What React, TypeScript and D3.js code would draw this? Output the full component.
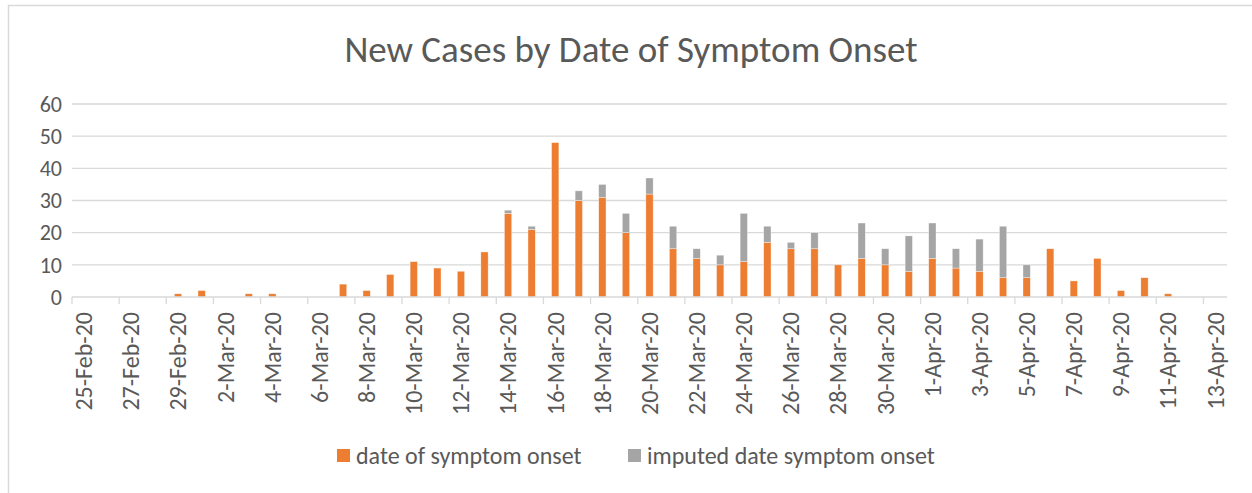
import React, { useEffect, useRef } from "react";
import * as d3 from "d3";

const dates = [
  "25-Feb-20", "26-Feb-20", "27-Feb-20", "28-Feb-20", "29-Feb-20",
  "1-Mar-20", "2-Mar-20", "3-Mar-20", "4-Mar-20", "5-Mar-20", "6-Mar-20", "7-Mar-20",
  "8-Mar-20", "9-Mar-20", "10-Mar-20", "11-Mar-20", "12-Mar-20", "13-Mar-20", "14-Mar-20",
  "15-Mar-20", "16-Mar-20", "17-Mar-20", "18-Mar-20", "19-Mar-20", "20-Mar-20", "21-Mar-20",
  "22-Mar-20", "23-Mar-20", "24-Mar-20", "25-Mar-20", "26-Mar-20", "27-Mar-20", "28-Mar-20",
  "29-Mar-20", "30-Mar-20", "31-Mar-20", "1-Apr-20", "2-Apr-20", "3-Apr-20", "4-Apr-20",
  "5-Apr-20", "6-Apr-20", "7-Apr-20", "8-Apr-20", "9-Apr-20", "10-Apr-20", "11-Apr-20",
  "12-Apr-20", "13-Apr-20",
];

const onset = [
  0, 0, 0, 0, 1,
  2, 0, 1, 1, 0, 0, 4,
  2, 7, 11, 9, 8, 14, 26,
  21, 48, 30, 31, 20, 32, 15,
  12, 10, 11, 17, 15, 15, 10,
  12, 10, 8, 12, 9, 8, 6,
  6, 15, 5, 12, 2, 6, 1,
  0, 0,
];

const imputed = [
  0, 0, 0, 0, 0,
  0, 0, 0, 0, 0, 0, 0,
  0, 0, 0, 0, 0, 0, 1,
  1, 0, 3, 4, 6, 5, 7,
  3, 3, 15, 5, 2, 5, 0,
  11, 5, 11, 11, 6, 10, 16,
  4, 0, 0, 0, 0, 0, 0,
  0, 0,
];

const yTicks = [0, 10, 20, 30, 40, 50, 60];
const seriesNames = ["date of symptom onset", "imputed date symptom onset"];
const colors = ["#ED7D31", "#A5A5A5"];

const W = 1252;
const H = 493;
const FONT = "Calibri, Carlito, Lato, sans-serif";
const TEXT = "#595959";

export default function App() {
  const ref = useRef<SVGSVGElement>(null);

  useEffect(() => {
    const svg = d3.select(ref.current);
    svg.selectAll("*").remove();

    const margin = { left: 72, right: 25, top: 104, bottom: 196 };
    const x = d3.scaleBand<string>().domain(dates).range([margin.left, W - margin.right]).paddingInner(0.69).paddingOuter(0.345);
    const y = d3.scaleLinear().domain([0, 60]).range([H - margin.bottom, margin.top]);
    const step = (W - margin.right - margin.left) / dates.length;

    // chart border
    svg.append("rect").attr("x", 8.5).attr("y", 5.5).attr("width", 1400).attr("height", 700)
      .attr("fill", "white").attr("stroke", "#D9D9D9").attr("stroke-width", 1.5);

    svg.append("text").attr("x", 631).attr("y", 62).attr("text-anchor", "middle")
      .attr("font-family", FONT).attr("font-size", 37).attr("fill", TEXT)
      .text("New Cases by Date of Symptom Onset");

    // gridlines + y labels
    const gy = svg.append("g");
    gy.selectAll("line").data(yTicks.slice(1)).enter().append("line")
      .attr("x1", margin.left).attr("x2", W - margin.right)
      .attr("y1", (d) => y(d)).attr("y2", (d) => y(d))
      .attr("stroke", "#D9D9D9").attr("stroke-width", 1.3);
    gy.selectAll("text").data(yTicks).enter().append("text")
      .attr("x", 62).attr("y", (d) => y(d)).attr("dy", "0.35em").attr("text-anchor", "end")
      .attr("font-family", FONT).attr("font-size", 22).attr("fill", TEXT)
      .text((d) => d);

    // stacked bars
    const stacked = d3.stack<number>().keys(["0", "1"])
      .value((i, k) => (k === "0" ? onset[i] : imputed[i]))(d3.range(dates.length));
    stacked.forEach((layer, li) => {
      svg.append("g").selectAll("rect")
        .data(layer.filter((d) => d[1] - d[0] > 0))
        .enter().append("rect")
        .attr("x", (d) => x(dates[d.data]) as number)
        .attr("y", (d) => y(d[1]))
        .attr("width", x.bandwidth())
        .attr("height", (d) => y(d[0]) - y(d[1]))
        .attr("fill", colors[li])
        .attr("stroke", "white").attr("stroke-opacity", 0.6).attr("stroke-width", 0.6);
    });

    // x axis line and tick marks (every 2 categories, at boundaries)
    const g0 = y(0);
    svg.append("line").attr("x1", margin.left).attr("x2", W - margin.right).attr("y1", g0).attr("y2", g0)
      .attr("stroke", "#D9D9D9").attr("stroke-width", 1.5);
    const tickIdx = d3.range(0, dates.length, 2);
    svg.append("g").selectAll("line").data(tickIdx).enter().append("line")
      .attr("x1", (i) => margin.left + i * step).attr("x2", (i) => margin.left + i * step)
      .attr("y1", g0).attr("y2", g0 + 7).attr("stroke", "#D9D9D9").attr("stroke-width", 1.3);

    svg.append("g").selectAll("text").data(tickIdx).enter().append("text")
      .attr("transform", (i) => `translate(${(x(dates[i]) as number) + x.bandwidth() / 2},${g0 + 15}) rotate(-90)`)
      .attr("dy", "0.35em").attr("text-anchor", "end")
      .attr("font-family", FONT).attr("font-size", 24).attr("fill", TEXT)
      .text((i) => dates[i]);

    // legend
    const leg = svg.append("g");
    const legX = [337, 628];
    seriesNames.forEach((name, i) => {
      leg.append("rect").attr("x", legX[i]).attr("y", 449).attr("width", 13).attr("height", 13).attr("fill", colors[i]);
      leg.append("text").attr("x", legX[i] + 19).attr("y", 456).attr("dy", "0.35em")
        .attr("font-family", FONT).attr("font-size", 24).attr("fill", TEXT).text(name);
    });
  }, []);

  return (
    <svg ref={ref} width={W} height={H} style={{ position: "absolute", left: 0, top: 0, display: "block" }} />
  );
}
